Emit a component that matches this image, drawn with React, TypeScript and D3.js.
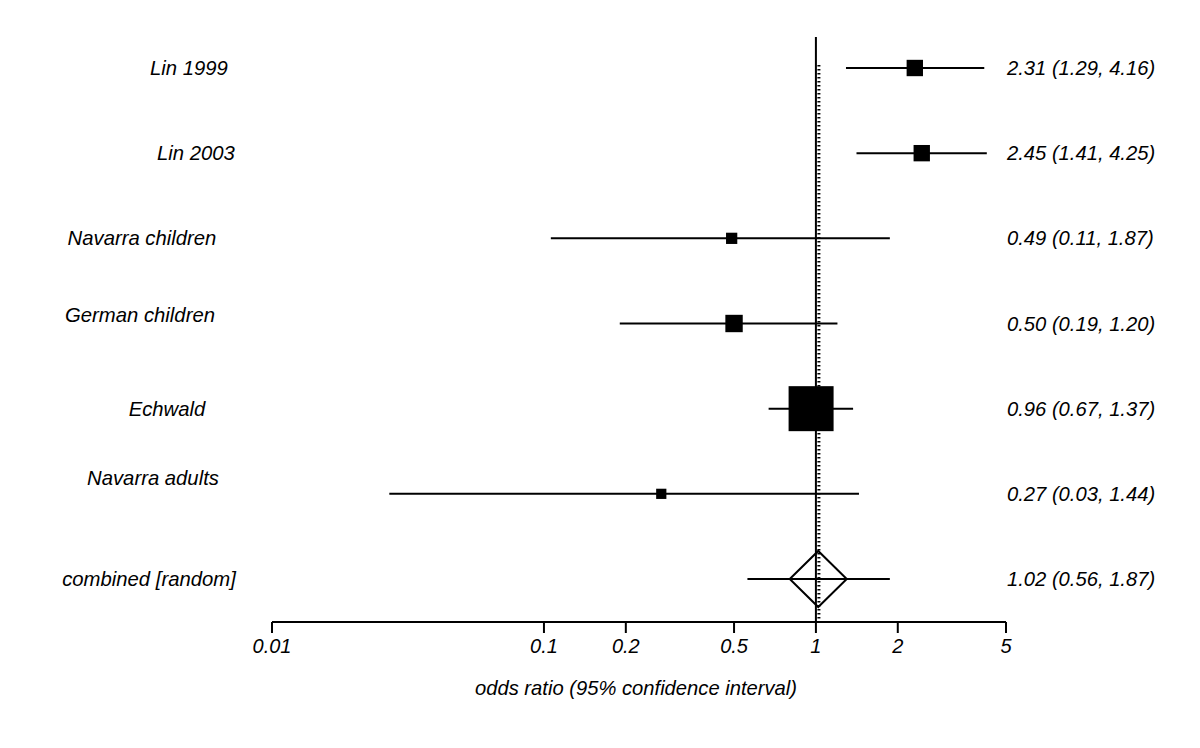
import React from "react";
import * as d3 from "d3";

const studies = ["Lin 1999", "Lin 2003", "Navarra children", "German children", "Echwald", "Navarra adults"];
const oddsRatios = [2.31, 2.45, 0.49, 0.5, 0.96, 0.27];
const lowerCI = [1.29, 1.41, 0.106, 0.19, 0.67, 0.027];
const upperCI = [4.16, 4.25, 1.87, 1.2, 1.37, 1.44];
const weights = [256, 256, 121, 289, 1936, 100];
const combinedLabel = "combined [random]";
const combined = { or: 1.02, lo: 0.56, hi: 1.87 };
const tickValues = [0.01, 0.1, 0.2, 0.5, 1, 2, 5];
const tickLabels = ["0.01", "0.1", "0.2", "0.5", "1", "2", "5"];
const axisTitle = "odds ratio (95% confidence interval)";

// layout (label anchor centres for left labels: x, y)
const leftLabelPos: [number, number][] = [
  [189, 68], [196, 153], [142, 238], [140, 315], [167, 409], [153, 478], [149, 579],
];

const fmt = (v: number) => v.toFixed(2);

export default function App() {
  const width = 1200;
  const height = 748;
  const x = d3.scaleLog().domain([0.01, 5]).range([272, 1006]);
  const rowY = d3.scalePoint<number>().domain(d3.range(7)).range([68, 579]);
  const size = d3.scaleSqrt().domain([0, d3.max(weights)!]).range([0, 45]);
  const axisY = 622;
  const font = "'Liberation Sans', Arial, sans-serif";
  const x1 = x(1);
  const cy = rowY(6)!;
  const dw = 28.5;
  const dh = 28;
  const allLabels = [...studies, combinedLabel];
  const rightTexts = [
    ...oddsRatios.map((o, i) => `${fmt(o)} (${fmt(lowerCI[i])}, ${fmt(upperCI[i])})`),
    `${fmt(combined.or)} (${fmt(combined.lo)}, ${fmt(combined.hi)})`,
  ];
  return (
    <svg width={width} height={height} style={{ position: "absolute", left: 0, top: 0, background: "#fff" }}
      fontFamily={font} fontStyle="italic">
      <rect width={width} height={height} fill="#fff" />
      {/* reference line at 1 */}
      <line x1={x1} x2={x1} y1={37} y2={axisY} stroke="#000" strokeWidth={2} />
      <line x1={x1 + 3} x2={x1 + 3} y1={65} y2={axisY} stroke="#000" strokeWidth={3} strokeDasharray="1.5 2.5" />
      {/* studies */}
      {studies.map((s, i) => {
        const y = rowY(i)!;
        const sz = size(weights[i]);
        return (
          <g key={s}>
            <line x1={x(lowerCI[i])} x2={x(upperCI[i])} y1={y} y2={y} stroke="#000" strokeWidth={2} />
            <rect x={x(oddsRatios[i]) - sz / 2} y={y - sz / 2} width={sz} height={sz} fill="#000" />
          </g>
        );
      })}
      {/* combined */}
      <line x1={x(combined.lo)} x2={x(combined.hi)} y1={cy} y2={cy} stroke="#000" strokeWidth={2} />
      <path
        d={`M${x(combined.or) - dw},${cy} L${x(combined.or)},${cy - dh} L${x(combined.or) + dw},${cy} L${x(combined.or)},${cy + dh} Z`}
        fill="none" stroke="#000" strokeWidth={2}
      />
      {/* labels */}
      {allLabels.map((s, i) => (
        <text key={s} x={leftLabelPos[i][0]} y={leftLabelPos[i][1]} dy="0.35em" textAnchor="middle" fontSize={20.3}>
          {s}
        </text>
      ))}
      {rightTexts.map((t, i) => (
        <text key={i} x={1007} y={rowY(i)!} dy="0.35em" fontSize={20.2}>
          {t}
        </text>
      ))}
      {/* axis */}
      <line x1={x(0.01)} x2={x(5)} y1={axisY} y2={axisY} stroke="#000" strokeWidth={2} />
      {tickValues.map((v, i) => (
        <g key={v}>
          <line x1={x(v)} x2={x(v)} y1={axisY} y2={axisY + 11} stroke="#000" strokeWidth={2} />
          <text x={x(v)} y={axisY + 31} textAnchor="middle" fontSize={20}>
            {tickLabels[i]}
          </text>
        </g>
      ))}
      <text x={636} y={695} textAnchor="middle" fontSize={20.2}>
        {axisTitle}
      </text>
    </svg>
  );
}
